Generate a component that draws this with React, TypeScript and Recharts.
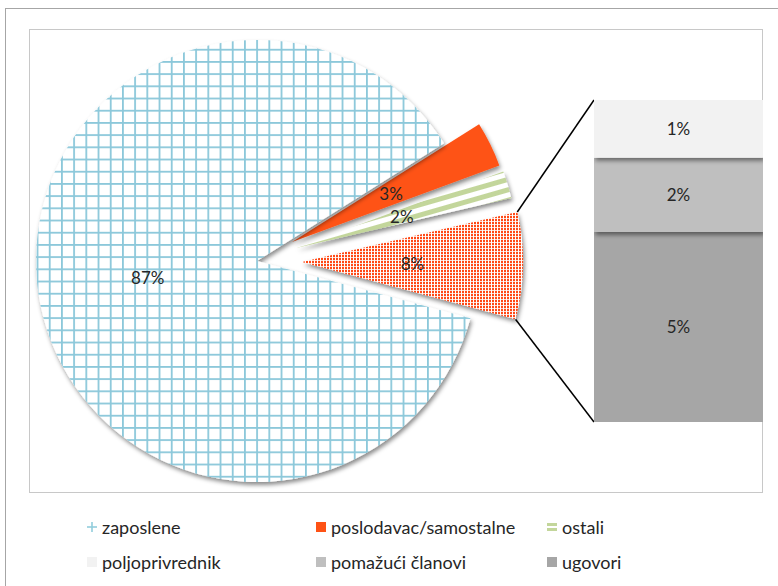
import { PieChart, Pie, Cell, BarChart, Bar, XAxis, YAxis, LabelList } from 'recharts';

// pie: "ostalo" is split out into the bar on the right
const pieCategories = ['ostalo', 'ostali', 'poslodavac/samostalne', 'zaposlene'];
const barCategories = ['ugovori', 'pomažući članovi', 'poljoprivrednik']; // bottom to top
const barValues = [4.6, 1.8, 1.4];
const ostalo = barValues.reduce((a, b) => a + b, 0);
const pieValues = [ostalo, 2.0, 3.3, 86.9];

const legendRows = [
  ['zaposlene', 'poslodavac/samostalne', 'ostali'],
  ['poljoprivrednik', 'pomažući članovi', 'ugovori'],
];

// layout
const W = 778;
const H = 586;
const R = 221;
const START = -15;
const centers = [
  [302, 262],
  [296, 248],
  [292, 242],
  [257, 261],
];
const fills = ['url(#dots)', 'url(#stripes)', '#fe5215', 'url(#grid)'];
const BAR = { x: 594, y: 100, w: 169, h: 322 };
const barColors = ['#a6a6a6', '#bfbfbf', '#f2f2f2'];
const FONT = 'Lato, "Open Sans", sans-serif';

const pieData = pieCategories.map((name, i) => ({ name, value: pieValues[i] }));
const barRow: Record<string, any> = { name: 'ostalo' };
barValues.forEach((v, i) => (barRow['b' + i] = v));

const RAD = Math.PI / 180;
const total = pieValues.reduce((a, b) => a + b, 0);

const renderLabel = (own: number) => (props: any) => {
  if (props.index !== own) return null;
  const r = props.outerRadius * 0.5;
  const x = props.cx + r * Math.cos(-props.midAngle * RAD);
  const y = props.cy + r * Math.sin(-props.midAngle * RAD);
  return (
    <text x={x} y={y} textAnchor="middle" dominantBaseline="central" fontSize={17} fill="#262626" fontFamily={FONT}>
      {Math.round(pieValues[props.index])}%
    </text>
  );
};

function Marker({ i }: { i: number }) {
  if (i === 0)
    return (
      <svg width={12} height={12} style={{ marginRight: 4 }}>
        <line x1={6} y1={1} x2={6} y2={11} stroke="#92cddc" strokeWidth={1.6} />
        <line x1={1} y1={6} x2={11} y2={6} stroke="#92cddc" strokeWidth={1.6} />
      </svg>
    );
  if (i === 2)
    return (
      <svg width={12} height={12} style={{ marginRight: 4 }}>
        <rect x={1} y={2} width={10} height={3} fill="#c3d69b" />
        <rect x={1} y={7} width={10} height={3} fill="#c3d69b" />
      </svg>
    );
  const c = ['', '#fe5215', '', '#f2f2f2', '#bfbfbf', '#a6a6a6'][i];
  return (
    <svg width={12} height={12} style={{ marginRight: 4 }}>
      <rect x={1} y={1} width={10} height={10} fill={c} />
    </svg>
  );
}

export default function App() {
  // corners of the "ostalo" slice, for the connector lines
  const [ocx, ocy] = centers[0];
  const a0 = START * RAD;
  const a1 = (START + (360 * pieValues[0]) / total) * RAD;
  const up = [ocx + R * Math.cos(a1), ocy - R * Math.sin(a1)];
  const lo = [ocx + R * Math.cos(a0), ocy - R * Math.sin(a0)];

  return (
    <div style={{ position: 'absolute', left: 0, top: 0, width: W, height: H, background: '#fff', fontFamily: FONT, overflow: 'hidden' }}>
      <svg width={W} height={H} style={{ position: 'absolute', left: 0, top: 0 }}>
        <defs>
          <pattern id="grid" width={12.2} height={12.2} patternUnits="userSpaceOnUse">
            <rect width={12.2} height={12.2} fill="#fff" />
            <line x1={0.9} y1={0} x2={0.9} y2={12.2} stroke="#8cc8da" strokeWidth={1.8} />
            <line x1={0} y1={0.9} x2={12.2} y2={0.9} stroke="#8cc8da" strokeWidth={1.8} />
          </pattern>
          <pattern id="stripes" width={10} height={10} patternUnits="userSpaceOnUse" patternTransform="rotate(-16)">
            <rect width={10} height={10} fill="#fff" />
            <rect width={10} height={5} fill="#c3d69b" />
          </pattern>
          <pattern id="dots" width={3} height={3} patternUnits="userSpaceOnUse">
            <rect width={3} height={3} fill="#fff" />
            <rect width={2} height={2.2} fill="#ff4a18" />
          </pattern>
          <filter id="shadow" x="-10%" y="-10%" width="130%" height="130%">
            <feDropShadow dx={1.5} dy={3} stdDeviation={2.2} floodColor="#000" floodOpacity={0.45} />
          </filter>
        </defs>
        <rect x={5.5} y={8.5} width={W} height={H} fill="none" stroke="#a6a6a6" />
        <rect x={29.5} y={29.5} width={733} height={463} fill="none" stroke="#c8c8c8" />
        <line x1={up[0]} y1={up[1]} x2={BAR.x} y2={BAR.y} stroke="#000" strokeWidth={1.5} />
        <line x1={lo[0]} y1={lo[1]} x2={BAR.x} y2={BAR.y + BAR.h} stroke="#000" strokeWidth={1.5} />
      </svg>

      <div style={{ position: 'absolute', left: 0, top: 0 }}>
        <PieChart width={W} height={H} margin={{ top: 0, right: 0, bottom: 0, left: 0 }}>
          {centers.map(([cx, cy], i) => (
            <Pie
              key={i}
              data={pieData}
              dataKey="value"
              cx={cx}
              cy={cy}
              outerRadius={R}
              startAngle={START}
              endAngle={START + 360}
              stroke="none"
              label={renderLabel(i)}
              labelLine={false}
              isAnimationActive={false}
            >
              {pieData.map((_, j) => (
                <Cell key={j} fill={j === i ? fills[j] : 'transparent'} filter={j === i ? 'url(#shadow)' : undefined} />
              ))}
            </Pie>
          ))}
        </PieChart>
      </div>

      <div style={{ position: 'absolute', left: BAR.x, top: BAR.y }}>
        <BarChart width={BAR.w} height={BAR.h} data={[barRow]} margin={{ top: 0, right: 0, bottom: 0, left: 0 }} barCategoryGap={0}>
          <XAxis dataKey="name" hide />
          <YAxis type="number" hide domain={[0, ostalo]} allowDataOverflow />
          {barValues.map((_, i) => (
            <Bar key={i} dataKey={'b' + i} name={barCategories[i]} stackId="s" fill={barColors[i]} isAnimationActive={false}>
              <Cell filter="url(#shadow)" />
              <LabelList
                dataKey={'b' + i}
                position="center"
                formatter={(v: any) => `${Math.round(Number(v))}%`}
                style={{ fontSize: 17, fill: '#262626', fontFamily: FONT }}
              />
            </Bar>
          ))}
        </BarChart>
      </div>

      {legendRows.map((row, r) => (
        <div key={r} style={{ position: 'absolute', top: 516 + r * 35, left: 0, height: 22 }}>
          {row.map((name, c) => (
            <div
              key={name}
              style={{ position: 'absolute', left: [86, 315, 546][c], top: 0, display: 'flex', alignItems: 'center', whiteSpace: 'nowrap', fontSize: 18, color: '#262626', height: 22 }}
            >
              <Marker i={r * 3 + c} />
              {name}
            </div>
          ))}
        </div>
      ))}
    </div>
  );
}
